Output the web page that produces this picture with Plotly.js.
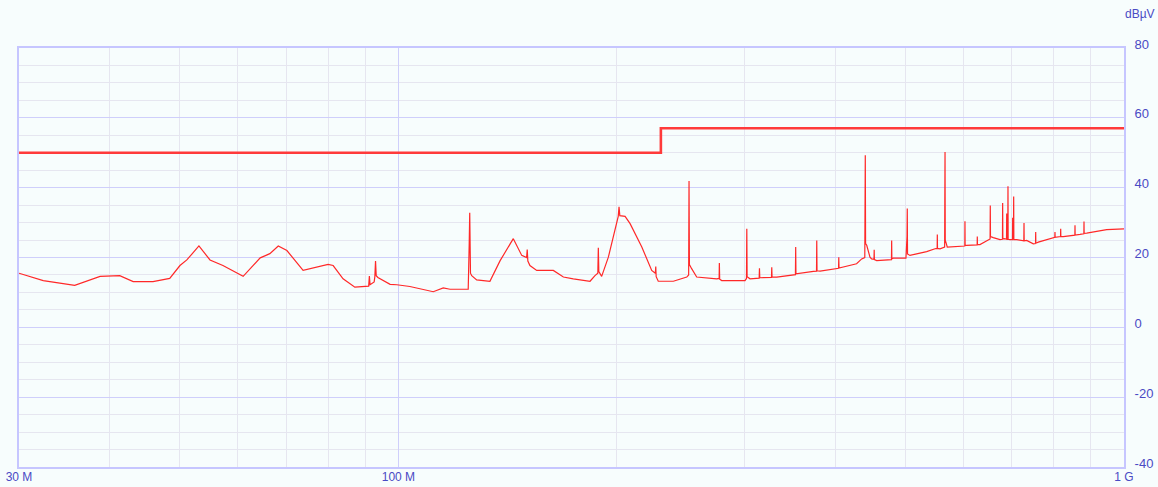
<!DOCTYPE html>
<html>
<head>
<meta charset="utf-8">
<script src="https://cdn.plot.ly/plotly-3.0.1.min.js"></script>
<style>
  html, body { margin: 0; padding: 0; background: #f7fdfd; }
  #chart { width: 1158px; height: 487px; }
</style>
</head>
<body>
<div id="chart"></div>
<script>
// Measured spectrum (frequency in MHz, level in dBµV)
const freqMHz = [
  30, 32.4, 35.8, 38.8, 41.3, 43.1, 45.9, 48.4, 50.0, 51.1,
  53.1, 55.0, 57.3, 61.1, 64.5, 66.5, 68.3, 70.2, 73.9, 78.0,
  80.0, 81.3, 83.9, 87.1, 90.5, 91.0, 91.2, 91.4, 92.6, 92.8,
  93.0, 93.2, 93.7, 97.4, 99.5, 103.7, 111.7, 115.3, 117.8, 124.8,
  125.2, 125.4, 125.7, 126.2, 128.2, 133.7, 138.1, 144.0, 147.9, 150.2,
  150.5, 150.8, 151.8, 155.1, 163.5, 168.8, 174.2, 183.7, 186.6, 188.3,
  188.6, 188.9, 190.6, 194.7, 200.9, 201.4, 201.9, 205.3, 208.6, 216.5,
  223.4, 226.0, 226.3, 226.6, 228.1, 239.3, 249.7, 251.2, 251.5, 251.8,
  253.6, 257.7, 274.6, 276.7, 276.9, 277.2, 279.0, 300.4, 301.8, 302.1,
  302.4, 305.2, 314.2, 314.5, 314.8, 326.7, 327.0, 327.3, 332.2, 350.2,
  352.5, 352.8, 353.1, 373.2, 376.9, 377.2, 377.5, 381.2, 402.0, 404.2,
  404.5, 404.8, 428.0, 435.0, 439.3, 439.6, 440.0, 440.4, 442.0, 446.6,
  448.9, 452.3, 452.6, 452.9, 456.2, 475.9, 478.1, 478.4, 478.7, 480.8,
  500.6, 502.3, 502.7, 503.1, 507.0, 534.6, 549.0, 552.7, 553.0, 553.3,
  557.8, 566.0, 566.3, 566.7, 567.1, 570.7, 594.2, 603.4, 603.7, 604.0,
  606.9, 627.5, 627.8, 628.1, 633.1, 650.0, 653.8, 654.2, 654.6, 660.5,
  674.6, 680.0, 680.4, 680.8, 683.3, 688.8, 689.2, 689.6, 691.6, 692.0,
  692.4, 696.5, 702.0, 702.4, 702.8, 704.2, 704.6, 705.0, 711.3, 727.7,
  728.1, 728.5, 734.3, 749.9, 755.2, 755.6, 756.0, 761.9, 798.9, 802.9,
  803.3, 803.7, 817.6, 818.0, 818.4, 824.8, 851.4, 855.6, 856.0, 856.4,
  869.7, 880.4, 880.8, 881.2, 888.4, 946.4, 1000
];
const levelDbuV = [
  15.5, 13.4, 12.0, 14.6, 14.8, 13.1, 13.1, 14.0, 17.7, 19.3,
  23.3, 19.3, 17.7, 14.6, 19.9, 21.1, 23.3, 22.0, 16.3, 17.4,
  18.0, 17.7, 13.9, 11.5, 11.7, 11.8, 14.7, 12.2, 13.0, 14.5,
  19.0, 14.8, 14.3, 12.3, 12.2, 11.7, 10.2, 11.3, 10.9, 10.9,
  24.0, 32.8, 15.5, 14.8, 13.6, 13.2, 19.1, 25.4, 20.6, 20.0,
  22.3, 19.0, 17.7, 16.3, 16.3, 14.4, 13.9, 13.2, 14.8, 15.5,
  22.8, 16.0, 14.6, 20.1, 31.8, 34.5, 32.0, 31.8, 29.7, 23.0,
  16.3, 15.5, 17.4, 14.5, 13.2, 13.2, 14.4, 15.0, 41.9, 18.0,
  16.8, 14.4, 13.9, 14.0, 18.4, 13.8, 13.4, 13.4, 14.0, 28.2,
  14.5, 13.9, 14.1, 16.9, 14.2, 14.3, 17.2, 14.4, 14.4, 15.0,
  15.1, 23.0, 15.3, 16.0, 16.1, 24.9, 16.2, 16.1, 16.8, 16.9,
  20.1, 17.0, 18.2, 19.6, 20.0, 35.0, 49.3, 24.0, 23.5, 20.1,
  19.6, 19.5, 22.2, 19.4, 19.1, 19.3, 19.4, 24.9, 19.6, 19.8,
  19.8, 26.0, 34.0, 21.0, 20.6, 21.7, 22.5, 22.6, 26.6, 22.6,
  22.5, 23.0, 36.0, 50.2, 25.0, 23.0, 23.2, 23.3, 30.4, 23.4,
  23.5, 23.6, 26.0, 23.7, 23.7, 25.1, 25.3, 34.9, 26.0, 25.7,
  25.1, 25.2, 35.6, 25.3, 25.4, 25.3, 32.6, 25.2, 25.2, 40.4,
  25.2, 25.1, 25.1, 31.4, 25.1, 25.1, 37.5, 25.1, 25.1, 24.8,
  29.9, 24.8, 24.9, 23.9, 24.0, 27.3, 24.1, 24.4, 25.7, 25.8,
  27.3, 25.8, 26.0, 28.2, 26.0, 26.0, 26.3, 26.4, 29.2, 26.4,
  26.6, 26.8, 30.3, 26.9, 27.0, 28.0, 28.2
];
// Limit line
const limitFreqMHz = [30, 230, 230, 1000];
const limitDbuV = [50, 50, 57, 57];
// Axis ticks
const xTickVals = [30, 100, 1000];
const xTickText = ['30 M', '100 M', '1 G'];
const xMinorVals = [40, 50, 60, 70, 80, 90, 200, 300, 400, 500, 600, 700, 800, 900];
const yTickVals = [-40, -20, 0, 20, 40, 60, 80];
const yTickText = ['-40', '-20', '0', '20', '40', '60', '80'];
const yUnit = 'dBµV';

const labelColor = '#4a4ac4';
const data = [
  {
    x: limitFreqMHz, y: limitDbuV, type: 'scatter', mode: 'lines',
    line: { color: '#ff3a3a', width: 2.6 }, hoverinfo: 'skip'
  },
  {
    x: freqMHz, y: levelDbuV, type: 'scatter', mode: 'lines',
    line: { color: '#ff2828', width: 1.2 }
  }
];
const layout = {
  width: 1158, height: 487,
  margin: { l: 19, r: 34, t: 48, b: 20, pad: 0 },
  paper_bgcolor: '#f7fdfd', plot_bgcolor: '#f7fdfd',
  showlegend: false,
  font: { family: 'Liberation Sans, Arial, sans-serif', size: 12, color: labelColor },
  xaxis: {
    type: 'log', range: [Math.log10(30), Math.log10(1000)],
    tickmode: 'array', tickvals: xTickVals, ticktext: xTickText,
    ticks: '', showgrid: true, gridcolor: '#cfcffb', gridwidth: 1,
    minor: { tickmode: 'array', tickvals: xMinorVals, showgrid: true, gridcolor: '#e6e6f0', gridwidth: 1, ticks: '' },
    showline: true, linecolor: '#c6c6ff', linewidth: 2, mirror: true,
    zeroline: false, automargin: false, ticklabelstandoff: -2,
    tickfont: { size: 12, color: labelColor }
  },
  yaxis: {
    side: 'right', range: [-40, 80],
    tickmode: 'array', tickvals: yTickVals, ticktext: yTickText,
    ticks: '', showgrid: true, gridcolor: '#cfcffb', gridwidth: 1,
    minor: { dtick: 5, showgrid: true, gridcolor: '#e6e6f0', gridwidth: 1, ticks: '' },
    showline: true, linecolor: '#c6c6ff', linewidth: 2, mirror: true,
    zeroline: false, automargin: false, ticklabelstandoff: 6, ticklabelshift: -4,
    tickfont: { size: 13, color: labelColor }
  },
  annotations: [{
    text: yUnit, xref: 'paper', yref: 'paper', x: 1.0145, y: 1.081,
    xanchor: 'center', yanchor: 'middle', showarrow: false,
    font: { size: 12, color: labelColor }
  }]
};
Plotly.newPlot('chart', data, layout, { staticPlot: true, displayModeBar: false });
</script>
</body>
</html>
